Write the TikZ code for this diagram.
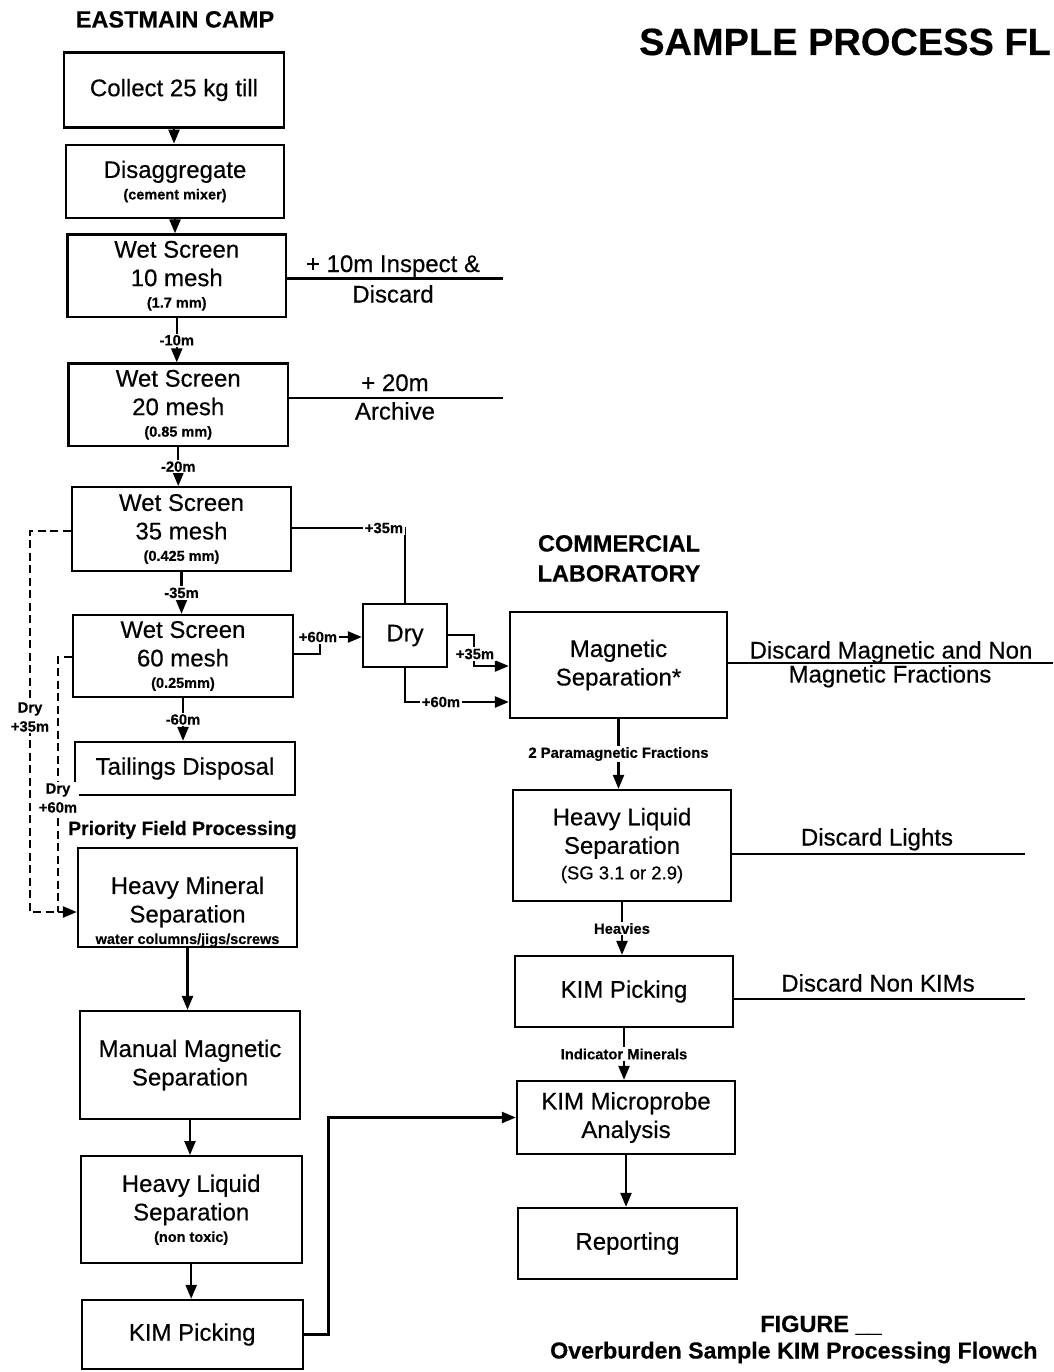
\documentclass[tikz,border=0pt]{standalone}
\usepackage{fontspec}
\setmainfont{Liberation Sans}[FakeBold=0.4]
\usetikzlibrary{arrows.meta}
\newcommand\fsmain{\fontsize{24}{28.5}\selectfont}
\newcommand\fsmid{\fontsize{18.5}{22}\selectfont}
\newcommand\fssmall{\bfseries\fontsize{14.5}{17}\selectfont}
\newcommand\fslab{\bfseries\fontsize{14.8}{19}\selectfont}
\newcommand\fshead{\bfseries\fontsize{23.5}{28}\selectfont}
\begin{document}
\begin{tikzpicture}[x=1pt,y=-1pt,
  box/.style={draw, line width=2.3pt, inner sep=0pt, align=center, font=\fsmain},
  tip/.style={-{Triangle[length=14pt,width=11pt]}},
  arr/.style={line width=2.3pt, tip},
  conn/.style={line width=2.3pt},
  lab/.style={fill=white, inner sep=1.5pt, font=\fslab, align=center},
  dsh/.style={line width=2.3pt, dash pattern=on 8pt off 4.5pt},
  txt/.style={inner sep=0pt, font=\fsmain, align=center, anchor=base},
]
\fill[white] (0,0) rectangle (1053,1372);
\useasboundingbox (0,0) rectangle (1053,1372);

% headings
\node[txt, font=\fshead] (hcamp) at (175,27.5) {EASTMAIN CAMP};
\node[txt, font=\bfseries\fontsize{38}{44}\selectfont, anchor=base west] (title) at (639,55) {SAMPLE PROCESS FL};
\node[txt, font=\fshead] (hlab1) at (619,551.5) {COMMERCIAL};
\node[txt, font=\fshead] (hlab2) at (619,581.5) {LABORATORY};
\node[txt, font=\bfseries\fontsize{19.4}{23}\selectfont] (hprio) at (182.5,835) {Priority Field Processing};
\node[txt, font=\fshead] (hfig) at (821,1332) {FIGURE \_\_};
\node[txt, font=\bfseries\fontsize{23.2}{28}\selectfont, anchor=base west] (hcap) at (550,1358.5) {Overburden Sample KIM Processing Flowch};

% left column boxes
\node[box, minimum width=220, minimum height=75] (collect) at (174,90) {Collect 25 kg till};
\node[box, minimum width=218.5, minimum height=73.5] (disag) at (175,181.5) {Disaggregate\\[-7pt]{\fssmall (cement mixer)}};
\node[box, minimum width=218.5, minimum height=82.5] (ws10) at (176.75,275.75) {Wet Screen\\10 mesh\\[-7pt]{\fssmall (1.7 mm)}};
\node[box, minimum width=219.5, minimum height=82.5] (ws20) at (178.25,404.75) {Wet Screen\\20 mesh\\[-7pt]{\fssmall (0.85 mm)}};
\node[box, minimum width=219, minimum height=83.5] (ws35) at (181.5,529) {Wet Screen\\35 mesh\\[-7pt]{\fssmall (0.425 mm)}};
\node[box, minimum width=220, minimum height=82] (ws60) at (183,656) {Wet Screen\\60 mesh\\[-7pt]{\fssmall (0.25mm)}};
\node[box, minimum width=220, minimum height=53] (tail) at (185,768.5) {Tailings Disposal};
\node[box, minimum width=219, minimum height=97] (hms) at (187.5,897.5) {\rule{0pt}{46pt}Heavy Mineral\\Separation\\[-7pt]{\fssmall water columns/jigs/screws}};
\node[box, minimum width=220, minimum height=108] (mms) at (190,1065) {Manual Magnetic\\Separation};
\node[box, minimum width=221, minimum height=107] (hlsL) at (191.2,1209.7) {Heavy Liquid\\Separation\\[-7pt]{\fssmall (non toxic)}};
\node[box, minimum width=221, minimum height=69] (kimL) at (192.2,1334.5) {KIM Picking};

% middle and right column boxes
\node[box, minimum width=84, minimum height=63] (dry) at (405,635.5) {Dry};
\node[box, minimum width=217, minimum height=106] (mag) at (618.5,665) {Magnetic\\Separation*};
\node[box, minimum width=218, minimum height=111] (hlsR) at (622,845.5) {Heavy Liquid\\Separation\\[-3pt]{\fsmid (SG 3.1 or 2.9)}};
\node[box, minimum width=218, minimum height=71] (kimR) at (624,991.5) {KIM Picking};
\node[box, minimum width=218, minimum height=73] (micro) at (626,1117.5) {KIM Microprobe\\Analysis};
\node[box, minimum width=219, minimum height=71] (report) at (627.5,1243.5) {Reporting};

% left column flow
\draw[arr] (collect.south) -- (collect.south |- disag.north);
\draw[arr] (disag.south) -- (disag.south |- ws10.north);
\draw[arr] (ws10.south) -- node[lab] {-10m} (ws10.south |- ws20.north);
\draw[arr] (ws20.south) -- node[lab] {-20m} (ws20.south |- ws35.north);
\draw[arr] (ws35.south) -- node[lab] {-35m} (ws35.south |- ws60.north);
\draw[arr] (ws60.south) -- node[lab] {-60m} (ws60.south |- tail.north);
\draw[arr] (hms.south) -- (hms.south |- mms.north);
\draw[arr] (mms.south) -- (mms.south |- hlsL.north);
\draw[arr] (hlsL.south) -- (hlsL.south |- kimL.north);
\draw[arr] (kimL.east) -- ++(24.5,0) |- (micro.west);

% discards, left
\coordinate (e10) at (503,278.5);
\draw[conn] (ws10.east |- e10) -- (e10);
\node[txt] (t10a) at (393,272) {+ 10m Inspect \&};
\node[txt] (t10b) at (393,302.5) {Discard};
\coordinate (e20) at (503,398);
\draw[conn] (ws20.east |- e20) -- (e20);
\node[txt] (t20a) at (395,391) {+ 20m};
\node[txt] (t20b) at (395,419.5) {Archive};

% dashed dry bypasses
\coordinate (c35) at (30,531);
\coordinate (dj) at (30,912);
\draw[dsh, tip] (ws35.west |- c35) -- (c35) -- (dj) -- (dj -| hms.west);
\node[lab] (ld35) at (30,717) {Dry\\+35m};
\coordinate (c60) at (58,657);
\draw[dsh] (ws60.west |- c60) -- (c60) -- (c60 |- dj);
\node[lab] (ld60) at (58,798) {Dry\\+60m};

% to the dryer
\coordinate (k35) at (405,528);
\draw[conn] (ws35.east |- k35) -- (k35) -- (dry.north);
\node[lab] (l35a) at (384,528) {+35m};
\coordinate (k60) at (320,654);
\coordinate (k60b) at (320,637);
\draw[arr] (ws60.east |- k60) -- (k60) -- (k60b) -- (k60b -| dry.west);
\node[lab] (l60a) at (318,637) {+60m};

% dryer to magnetic separation
\coordinate (m35a) at (474,635);
\coordinate (m35b) at (474,666);
\draw[arr] (dry.east |- m35a) -- (m35a) -- (m35b) -- (m35b -| mag.west);
\node[lab] (l35b) at (475,654) {+35m};
\coordinate (m60) at (405,702);
\draw[arr] (dry.south) -- (m60) -- (m60 -| mag.west);
\node[lab] (l60b) at (441,702) {+60m};

% right column flow
\draw[arr] (mag.south) -- node[lab] {2 Paramagnetic Fractions} (mag.south |- hlsR.north);
\draw[arr] (hlsR.south) -- node[lab] {Heavies} (hlsR.south |- kimR.north);
\draw[arr] (kimR.south) -- node[lab] {Indicator Minerals} (kimR.south |- micro.north);
\draw[arr] (micro.south) -- (micro.south |- report.north);

% discards, right
\coordinate (em) at (1053,663);
\draw[conn] (mag.east |- em) -- (em);
\node[txt] (tma) at (891,658.5) {Discard Magnetic and Non};
\node[txt] (tmb) at (890,682.5) {Magnetic Fractions};
\coordinate (el) at (1025,854);
\draw[conn] (hlsR.east |- el) -- (el);
\node[txt] (tl) at (877,845.5) {Discard Lights};
\coordinate (ek) at (1025,999);
\draw[conn] (kimR.east |- ek) -- (ek);
\node[txt] (tk) at (878,991.5) {Discard Non KIMs};
\end{tikzpicture}
\end{document}
